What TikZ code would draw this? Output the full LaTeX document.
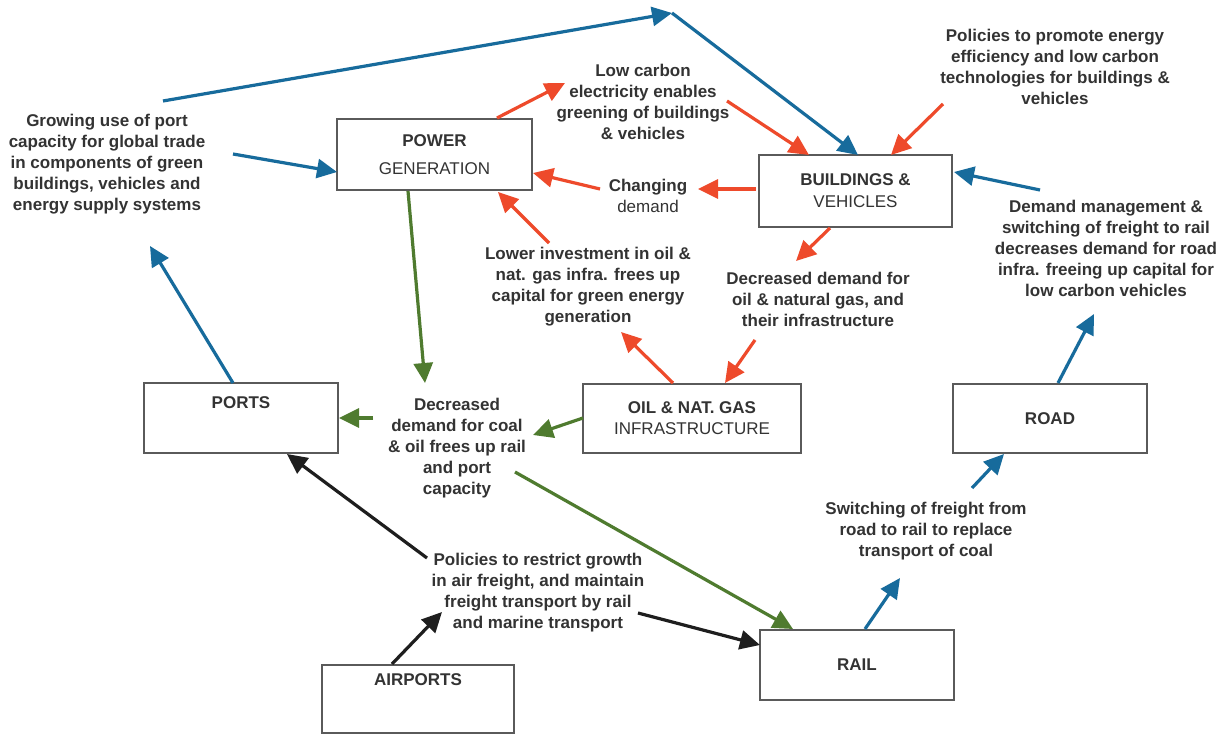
\documentclass[tikz,border=0pt]{standalone}
\usepackage{fontspec}
\setmainfont{Liberation Sans}
\usetikzlibrary{arrows.meta,calc}
\definecolor{cblue}{HTML}{176B9C}
\definecolor{cred}{HTML}{EE4A2B}
\definecolor{cgreen}{HTML}{4F7B2F}
\definecolor{cblack}{HTML}{1E1E1E}
\definecolor{txt}{HTML}{333333}
\definecolor{boxgray}{HTML}{5A5A5A}
\begin{document}
\begin{tikzpicture}[x=1pt,y=-1pt,
  box/.style={draw=boxgray, line width=1.8pt, fill=white, inner sep=0pt, align=center,
    text=txt, font=\fontsize{17}{21}\selectfont},
  lbl/.style={align=center, inner sep=0pt, text=txt, font=\bfseries\fontsize{17}{21}\selectfont},
  arr/.style={line width=3.2pt, -{Triangle[length=20pt,width=19pt]}},
  barr/.style={arr, draw=cblue, fill=cblue},
  rarr/.style={arr, draw=cred, fill=cred},
  garr/.style={arr, draw=cgreen, fill=cgreen},
  karr/.style={arr, draw=cblack, fill=cblack}]
\useasboundingbox (0,0) rectangle (1232,735);
\fill[white] (0,0) rectangle (1232,735);

% boxes
\node[box, minimum width=195pt, minimum height=71pt] (pow) at (434.5,154.5) {\textbf{POWER}\\[7pt]GENERATION};
\node[box, minimum width=193pt, minimum height=72pt] (bld) at (855.5,191) {\textbf{BUILDINGS \&}\\[1pt]VEHICLES};
\node[box, minimum width=218pt, minimum height=69pt] (oil) at (692,418.5) {\textbf{OIL \& NAT. GAS}\\INFRASTRUCTURE};
\node[box, minimum width=194pt, minimum height=70pt] (ports) at (241,418) {\textbf{PORTS}\\[9pt]{}};
\node[box, minimum width=194pt, minimum height=69pt] (road) at (1050,418.5) {\textbf{ROAD}};
\node[box, minimum width=194pt, minimum height=70pt] (rail) at (857,665) {\textbf{RAIL}};
\node[box, minimum width=192pt, minimum height=68pt] (air) at (418,699) {\textbf{AIRPORTS}\\[17pt]{}};

% text labels
\node[lbl] (grow) at (107,164.5) {Growing use of port\\capacity for global trade\\in components of green\\buildings, vehicles and\\energy supply systems};
\node[lbl] (lowc) at (643,102) {Low carbon\\electricity enables\\greening of buildings\\\& vehicles};
\node[lbl] (chg) at (648,195.5) {Changing\\\mdseries demand};
\node[lbl] (pol1) at (1055,67) {Policies to promote energy\\efficiency and low carbon\\technologies for buildings \&\\vehicles};
\node[lbl] (dem) at (1106,248.5) {Demand management \&\\switching of freight to rail\\decreases demand for road\\infra. freeing up capital for\\low carbon vehicles};
\node[lbl] (low) at (588,287) {Lower investment in oil \&\\nat. gas infra. frees up\\capital for green energy\\generation};
\node[lbl] (decoil) at (818,299.5) {Decreased demand for\\oil \& natural gas, and\\their infrastructure};
\node[lbl] (dcoal) at (457,448) {Decreased\\demand for coal\\\& oil frees up rail\\and port\\capacity};
\node[lbl] (sw) at (926,531) {Switching of freight from\\road to rail to replace\\transport of coal};
\node[lbl] (pol2) at (538,593) {Policies to restrict growth\\in air freight, and maintain\\freight transport by rail\\and marine transport};

\coordinate (bend) at (672,13);

% blue
\draw[barr] ($(grow)+(56,-63.5)$) -- (bend);
\draw[barr] (bend) -- ($(bld)+(2.5,-36)$);
\draw[barr] ($(grow)+(126,-10.5)$) -- ($(pow)+(-97.5,17.5)$);
\draw[barr] ($(ports)+(-8,-35)$) -- ($(grow)+(43,81.5)$);
\draw[barr] ($(dem)+(-66,-58.5)$) -- ($(bld)+(98.5,-19)$);
\draw[barr] ($(road)+(8,-35.5)$) -- ($(dem)+(-12,65.5)$);
\draw[barr] ($(rail)+(8,-36)$) -- ($(sw)+(-26,47)$);
\draw[barr] ($(sw)+(46,-43)$) -- ($(road)+(-46,35.5)$);

% red
\draw[rarr] ($(pow)+(62.5,-36.5)$) -- ($(lowc)+(-78,-19)$);
\draw[rarr] ($(lowc)+(84,-1)$) -- ($(bld)+(-46.5,-36)$);
\draw[rarr] ($(pol1)+(-112,37)$) -- ($(bld)+(35.5,-36)$);
\draw[rarr] ($(bld)+(-99.5,-2)$) -- ($(chg)+(50,-6.5)$);
\draw[rarr] ($(chg)+(-48,-6.5)$) -- ($(pow)+(98.5,18.5)$);
\draw[rarr] ($(low)+(-39,-44)$) -- ($(pow)+(63.5,37.5)$);
\draw[rarr] ($(bld)+(-25.5,37)$) -- ($(decoil)+(-22,-38.5)$);
\draw[rarr] ($(oil)+(-19,-35.5)$) -- ($(low)+(33,45)$);
\draw[rarr] ($(decoil)+(-63,40.5)$) -- ($(oil)+(33,-35.5)$);

% green
\draw[garr] ($(pow)+(-26.5,36.5)$) -- ($(dcoal)+(-32,-65)$);
\draw[garr] ($(dcoal)+(-84,-30)$) -- ($(ports)+(98,0)$);
\draw[garr] ($(oil)+(-109,-0.5)$) -- ($(dcoal)+(76,-13)$);
\draw[garr] ($(dcoal)+(58,24)$) -- ($(rail)+(-64,-36)$);

% black
\draw[karr] ($(pol2)+(-111,-35)$) -- ($(ports)+(46,36)$);
\draw[karr] ($(air)+(-26,-35)$) -- ($(pol2)+(-96,19)$);
\draw[karr] ($(pol2)+(100,20)$) -- ($(rail)+(-97,-20)$);
\end{tikzpicture}
\end{document}
